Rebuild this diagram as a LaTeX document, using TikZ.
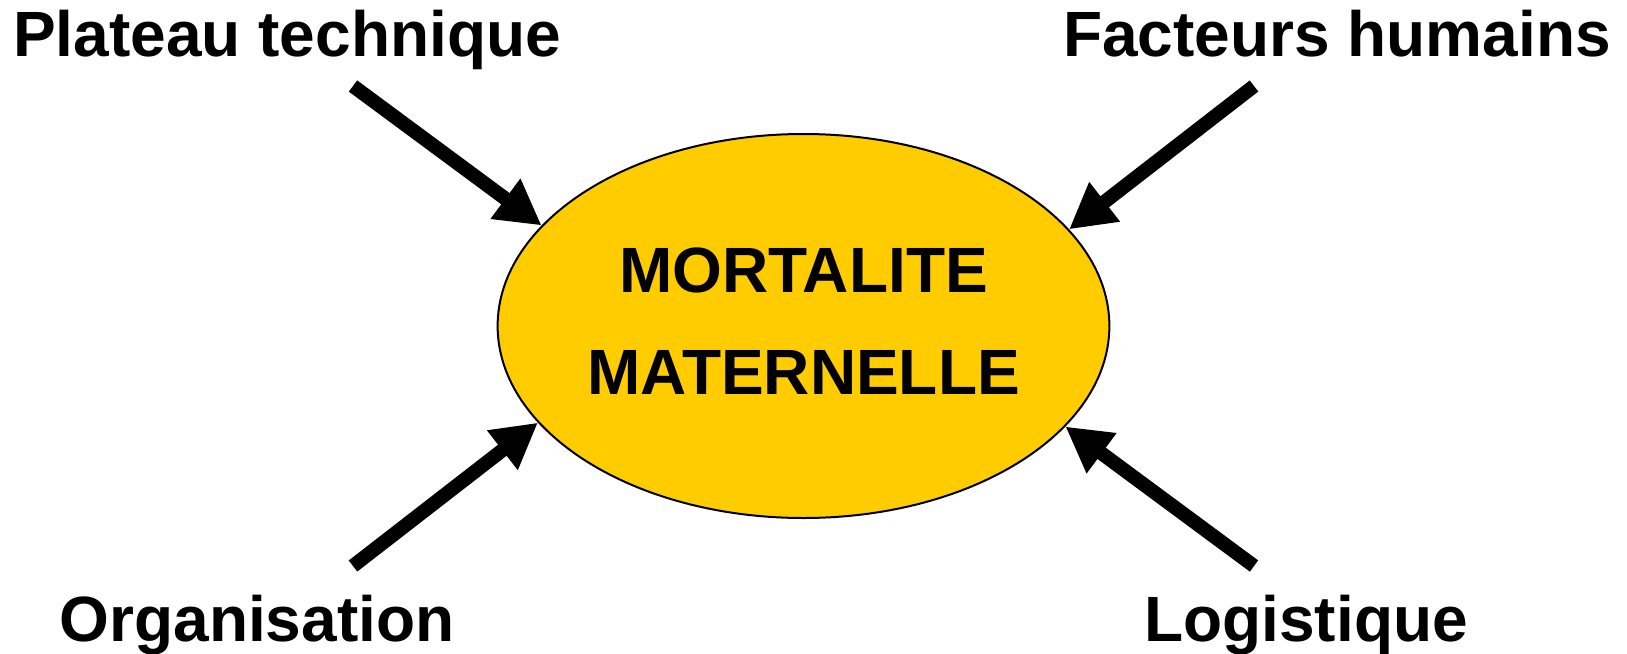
\documentclass[tikz,border=0pt]{standalone}
\usepackage{fontspec}
\setmainfont{Liberation Sans}
\usetikzlibrary{shapes.geometric,arrows.meta}
\definecolor{mmyellow}{RGB}{255,204,0}
\begin{document}
\begin{tikzpicture}[x=0.5pt,y=-0.5pt,
  lbl/.style={font=\fontsize{32}{38}\selectfont\bfseries, inner sep=0pt, anchor=base},
  bigarrow/.style={line width=7pt, -{Triangle[length=22.5pt,width=23.5pt]}},
  mainell/.style={ellipse, draw=black, line width=1pt, fill=mmyellow,
    minimum width=301.5pt, minimum height=192pt, inner sep=0pt, align=center,
    font=\fontsize{32}{51.2}\selectfont\bfseries, text depth=5pt}
]
\useasboundingbox (0,0) rectangle (1627,653);
\node[mainell] (mm) at (803.5,326) {MORTALITE\\MATERNELLE};
\node[lbl] (plat) at (287,56) {Plateau technique};
\node[lbl] (fact) at (1337,56) {Facteurs humains};
\node[lbl] (orga) at (257,641) {Organisation};
\node[lbl] (logi) at (1306,641) {Logistique};
\coordinate (a1) at (353,86);
\coordinate (a2) at (1254,86);
\coordinate (a3) at (353,566);
\coordinate (a4) at (1254,566);
\draw[bigarrow] (a1) -- (mm.159.4);
\draw[bigarrow] (a2) -- (mm.20.6);
\draw[bigarrow] (a3) -- (mm.200.6);
\draw[bigarrow] (a4) -- (mm.339.4);
\end{tikzpicture}
\end{document}
